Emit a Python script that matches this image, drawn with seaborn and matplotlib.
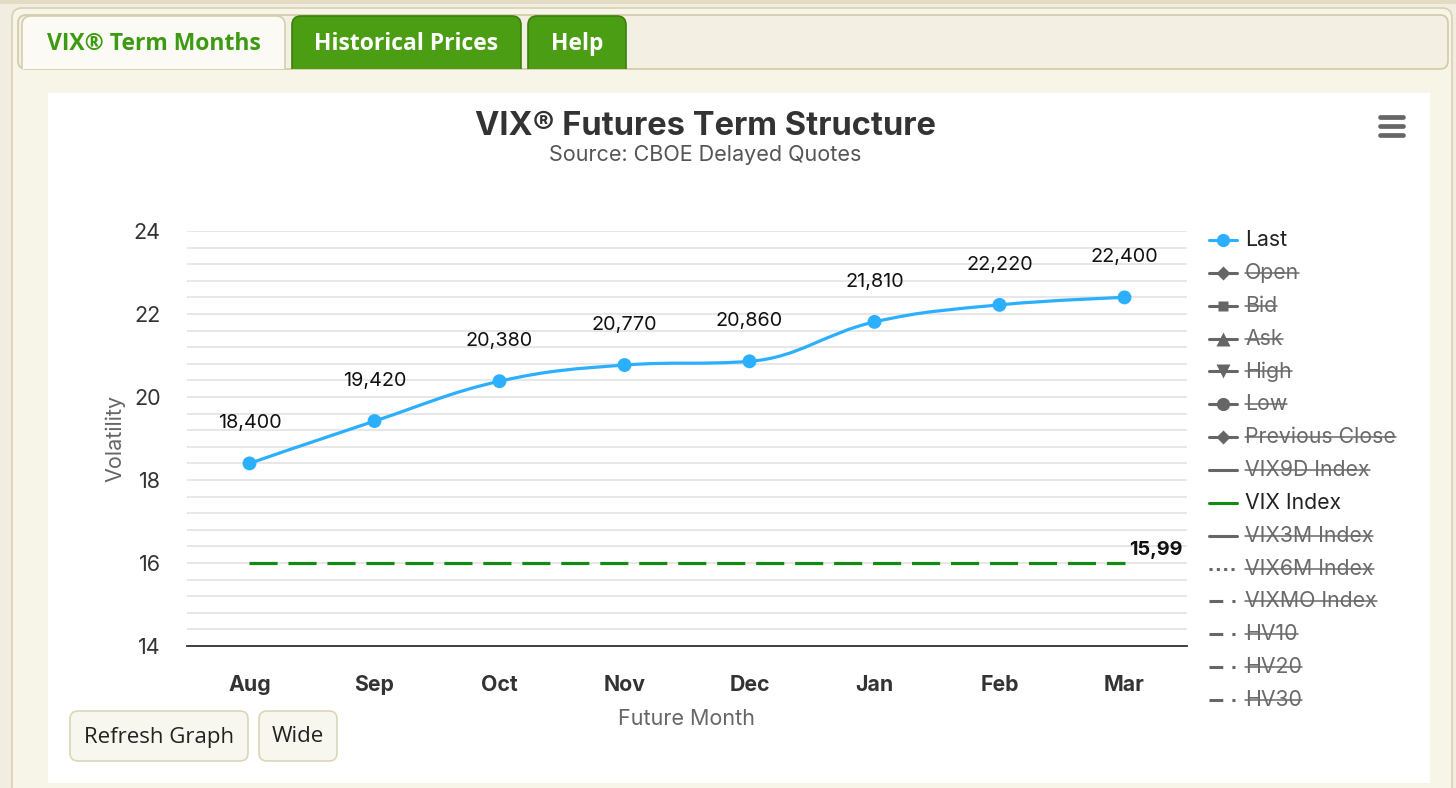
import numpy as np
import pandas as pd
import matplotlib
matplotlib.use("Agg")
import matplotlib.pyplot as plt
import seaborn as sns
from matplotlib.path import Path
from matplotlib.patches import PathPatch, FancyBboxPatch, Rectangle
from matplotlib.lines import Line2D

# chart data
months = ["Aug", "Sep", "Oct", "Nov", "Dec", "Jan", "Feb", "Mar"]
last = [18.400, 19.420, 20.380, 20.770, 20.860, 21.810, 22.220, 22.400]
vix_index = [15.99, 15.99, 15.99, 15.99, 15.99, 15.99, 15.99, 15.99]
y_ticks = [14, 16, 18, 20, 22, 24]

legend_names = ["Last", "Open", "Bid", "Ask", "High", "Low", "Previous Close",
                "VIX9D Index", "VIX Index", "VIX3M Index", "VIX6M Index",
                "VIXMO Index", "HV10", "HV20", "HV30"]
legend_markers = ["o", "D", "s", "^", "v", "o", "D",
                  None, None, None, None, None, None, None, None]
legend_styles = ["-", "-", "-", "-", "-", "-", "-",
                 "-", "-", "-", ":", "-.", "-.", "-.", "-."]
visible = ["Last", "VIX Index"]

BLUE = "#2caffe"
GREEN = "#138a13"
GREY = "#666666"

df = pd.DataFrame({"month": months, "last": last, "vix": vix_index})
df["pos"] = np.arange(len(df))

sns.set_theme(style="white")
plt.rcParams["font.family"] = ["Inter", "DejaVu Sans"]

fig = plt.figure(figsize=(14.56, 7.88), dpi=100)
fig.patch.set_facecolor("#f1ede0")

# page chrome drawn in pixel coordinates
bg = fig.add_axes([0, 0, 1, 1], zorder=0)
bg.set_xlim(0, 1456)
bg.set_ylim(788, 0)
bg.axis("off")

bg.add_patch(Rectangle((0, 0), 1456, 4, color="#e3dbc3", lw=0))
bg.add_patch(FancyBboxPatch((12, 8), 1440, 820, boxstyle="round,pad=0,rounding_size=10",
                            fc="#f7f4e8", ec="#d9d0b4", lw=1.2))
bg.add_patch(FancyBboxPatch((18, 15), 1430, 54, boxstyle="round,pad=0,rounding_size=8",
                            fc="#f3efe3", ec="#d3c9a8", lw=1.2))

clip = Rectangle((0, 0), 1456, 69, transform=bg.transData)
tabs = [("VIX® Term Months", 22, 263, True),
        ("Historical Prices", 292, 229, False),
        ("Help", 528, 98, False)]
for label, x0, w, active in tabs:
    p = FancyBboxPatch((x0, 16), w, 70, boxstyle="round,pad=0,rounding_size=9",
                       fc="#fbfaf4" if active else "#4b9d14",
                       ec="#d6cdb0" if active else "#3b800c", lw=1.2)
    bg.add_patch(p)
    p.set_clip_path(clip)
    bg.text(x0 + w / 2, 44, label, ha="center", va="center", fontsize=16.5,
            weight="bold", family=["Open Sans", "DejaVu Sans"],
            color="#3d9a13" if active else "white")

bg.add_patch(Rectangle((48, 93), 1382, 690, fc="white", lw=0))

for label, x0, w in [("Refresh Graph", 70, 178), ("Wide", 259, 78)]:
    bg.add_patch(FancyBboxPatch((x0, 711), w, 50, boxstyle="round,pad=0,rounding_size=8",
                                fc="#f8f7ef", ec="#dcd5bb", lw=1.2))
    bg.text(x0 + w / 2, 737, label, ha="center", va="center", fontsize=16,
            family=["Open Sans", "DejaVu Sans"], color="#222222")

for yy in [117, 126, 135]:
    bg.plot([1380, 1403], [yy, yy], color=GREY, lw=3.4, solid_capstyle="round")

bg.text(705, 126, "VIX® Futures Term Structure", ha="center", va="center",
        fontsize=23.5, weight="bold", color="#333333")
bg.text(705, 155, "Source: CBOE Delayed Quotes", ha="center", va="center",
        fontsize=15.5, color="#555555")

# main plot
ax = fig.add_axes([187 / 1456, 1 - 646 / 788, 1000 / 1456, 415 / 788], zorder=1)
ax.set_facecolor("none")


def spline_path(xs, ys, smoothing=1.5):
    n = len(xs)
    denom = smoothing + 1
    lc = [(xs[i], ys[i]) for i in range(n)]
    rc = [(xs[i], ys[i]) for i in range(n)]
    for i in range(1, n - 1):
        px, py = xs[i], ys[i]
        lx, ly = xs[i - 1], ys[i - 1]
        nx, ny = xs[i + 1], ys[i + 1]
        lcx = (smoothing * px + lx) / denom
        lcy = (smoothing * py + ly) / denom
        rcx = (smoothing * px + nx) / denom
        rcy = (smoothing * py + ny) / denom
        if rcx != lcx:
            corr = (rcy - lcy) * (rcx - px) / (rcx - lcx) + py - rcy
            lcy += corr
            rcy += corr
        if lcy > ly and lcy > py:
            lcy = max(ly, py)
            rcy = 2 * py - lcy
        elif lcy < ly and lcy < py:
            lcy = min(ly, py)
            rcy = 2 * py - lcy
        if rcy > ny and rcy > py:
            rcy = max(ny, py)
            lcy = 2 * py - rcy
        elif rcy < ny and rcy < py:
            rcy = min(ny, py)
            lcy = 2 * py - rcy
        lc[i] = (lcx, lcy)
        rc[i] = (rcx, rcy)
    verts = [(xs[0], ys[0])]
    codes = [Path.MOVETO]
    for i in range(1, n):
        verts += [rc[i - 1], lc[i], (xs[i], ys[i])]
        codes += [Path.CURVE4] * 3
    return Path(verts, codes)


ax.add_patch(PathPatch(spline_path(list(df["pos"]), list(df["last"])),
                       fc="none", ec=BLUE, lw=2.3, zorder=3))
sns.scatterplot(data=df, x="pos", y="last", ax=ax, color=BLUE, s=100,
                edgecolor="none", zorder=4, legend=False)
sns.lineplot(data=df, x="pos", y="vix", ax=ax, color=GREEN, lw=2.3,
             dashes=False, zorder=3, legend=False)
ax.lines[-1].set_dashes((8.8, 3.4))

for p, v in zip(df["pos"], df["last"]):
    ax.annotate(f"{v:.3f}".replace(".", ","), (p, v), xytext=(0, 29),
                textcoords="offset points", ha="center", va="center",
                fontsize=14.3, color="#111111")
ax.annotate(f"{vix_index[-1]:.2f}".replace(".", ","), (df["pos"].iloc[-1], vix_index[-1]),
            xytext=(3.5, 10), textcoords="offset points", ha="left", va="center",
            fontsize=14.3, weight="bold", color="#111111")

ax.set_xlim(-0.5, len(months) - 0.5)
ax.set_ylim(14, 24)
ax.set_xticks(df["pos"])
ax.set_xticklabels(months, fontsize=15.3, weight="bold", color="#333333")
ax.set_yticks(y_ticks)
ax.set_yticks(np.arange(14, 24.01, 0.4), minor=True)
ax.set_yticklabels([str(t) for t in y_ticks], fontsize=15.5, color="#333333")
ax.tick_params(axis="both", which="both", length=0)
ax.tick_params(axis="y", pad=19)
ax.tick_params(axis="x", pad=21)
ax.grid(axis="y", which="both", color="#e3e3e3", lw=1.2)
ax.grid(axis="x", visible=False)
for side in ["top", "right", "left"]:
    ax.spines[side].set_visible(False)
ax.spines["bottom"].set_color("#333333")
ax.spines["bottom"].set_linewidth(1.3)
ax.set_xlabel("Future Month", fontsize=15.5, color="#666666", labelpad=10)
ax.set_ylabel("Volatility", fontsize=15.5, color="#666666", labelpad=6)

# legend
fig.canvas.draw()
renderer = fig.canvas.get_renderer()
leg_y0, leg_dy = 240, 32.86
dash_dot = (0, (4.5, 3, 1, 3))
for i, name in enumerate(legend_names):
    y = leg_y0 + i * leg_dy
    on = name in visible
    col = BLUE if name == "Last" else (GREEN if name == "VIX Index" else GREY)
    ls = legend_styles[i]
    if ls == "-.":
        ls = dash_dot
    elif ls == ":":
        ls = (0, (1, 1.4))
    bg.add_line(Line2D([1209, 1237], [y, y], color=col, lw=2.2, ls=ls))
    if legend_markers[i]:
        ms = 9.5 if legend_markers[i] in ("o", "^", "v") else 7.5
        bg.plot([1223], [y], marker=legend_markers[i], color=col, ms=ms, mec="none")
    t = bg.text(1245, y, name, ha="left", va="center", fontsize=15.3,
                color="#222222" if on else "#6a6a6a")
    if not on:
        bb = t.get_window_extent(renderer)
        bg.add_line(Line2D([bb.x0, bb.x1], [y, y], color="#6a6a6a", lw=1.1))

fig.savefig("out.png", dpi=100, facecolor=fig.get_facecolor())
